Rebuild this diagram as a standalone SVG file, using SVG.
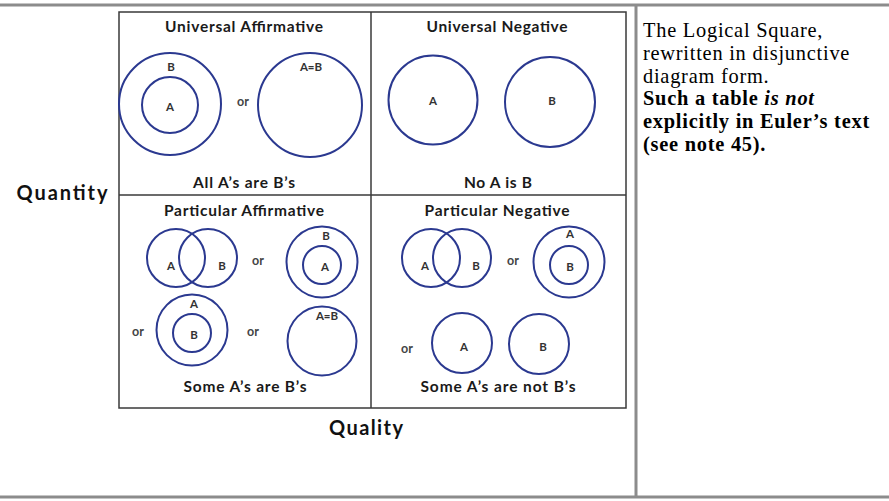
<svg xmlns="http://www.w3.org/2000/svg" width="889" height="501" viewBox="0 0 889 501">
<style>
.frame{stroke:#8c8c8c;stroke-width:3;fill:none}
.grid{stroke:#3a3a3a;stroke-width:1.5;fill:none}
.c{fill:none;stroke:#2b3990;stroke-width:2}
.t{font-family:Lato,"Open Sans",sans-serif;font-weight:bold;fill:#1a1a1a;text-anchor:middle}
.title{font-size:15.5px}
.lab{font-size:11.5px;fill:#333}
.or{font-size:12.5px;fill:#444}
.ax{font-size:20px;fill:#111}
.side{font-family:"Liberation Serif","Times New Roman",serif;font-size:20.4px;letter-spacing:0.75px;fill:#000}
</style>
<rect width="889" height="501" fill="#fff"/>
<g id="frame">
<line class="frame" x1="0" y1="5" x2="889" y2="5"/>
<line class="frame" x1="0" y1="497" x2="889" y2="497"/>
<line class="frame" x1="636" y1="5" x2="636" y2="497"/>
</g>
<g id="table">
<rect class="grid" x="119" y="12" width="507" height="396"/>
<line class="grid" x1="371" y1="12" x2="371" y2="408"/>
<line class="grid" x1="119" y1="195" x2="626" y2="195"/>
</g>
<g id="universal-affirmative">
<text class="t title" x="244" y="32" textLength="158" lengthAdjust="spacing">Universal Affirmative</text>
<circle class="c" cx="170" cy="104" r="51"/>
<circle class="c" cx="170" cy="105" r="28"/>
<text class="t lab" x="171" y="71">B</text>
<text class="t lab" x="170" y="111">A</text>
<text class="t or" x="243" y="106">or</text>
<circle class="c" cx="310" cy="105" r="52"/>
<text class="t lab" x="311" y="71">A=B</text>
<text class="t title" x="244" y="188" textLength="102" lengthAdjust="spacing">All A’s are B’s</text>
</g>
<g id="universal-negative">
<text class="t title" x="497" y="32" textLength="141" lengthAdjust="spacing">Universal Negative</text>
<circle class="c" cx="433" cy="100" r="44.5"/>
<text class="t lab" x="433" y="105">A</text>
<circle class="c" cx="550" cy="102" r="45"/>
<text class="t lab" x="552" y="105">B</text>
<text class="t title" x="498" y="188" textLength="68" lengthAdjust="spacing">No A is B</text>
</g>
<g id="particular-affirmative">
<text class="t title" x="244" y="216" textLength="160" lengthAdjust="spacing">Particular Affirmative</text>
<circle class="c" cx="176" cy="258" r="29"/>
<circle class="c" cx="208" cy="258" r="29"/>
<text class="t lab" x="171" y="270">A</text>
<text class="t lab" x="222" y="270">B</text>
<text class="t or" x="258" y="265">or</text>
<circle class="c" cx="322" cy="262" r="35.5"/>
<circle class="c" cx="322" cy="265" r="19"/>
<text class="t lab" x="326" y="240">B</text>
<text class="t lab" x="325" y="271">A</text>
<circle class="c" cx="192" cy="330" r="35.5"/>
<circle class="c" cx="192" cy="333" r="19"/>
<text class="t lab" x="194" y="308">A</text>
<text class="t lab" x="194" y="339">B</text>
<text class="t or" x="138" y="336">or</text>
<text class="t or" x="253" y="336">or</text>
<circle class="c" cx="322" cy="341" r="34.5"/>
<text class="t lab" x="327" y="320">A=B</text>
<text class="t title" x="245" y="392" textLength="123" lengthAdjust="spacing">Some A’s are B’s</text>
</g>
<g id="particular-negative">
<text class="t title" x="497" y="216" textLength="145" lengthAdjust="spacing">Particular Negative</text>
<circle class="c" cx="431" cy="258" r="29"/>
<circle class="c" cx="462" cy="258" r="29"/>
<text class="t lab" x="425" y="270">A</text>
<text class="t lab" x="476" y="270">B</text>
<text class="t or" x="513" y="265">or</text>
<circle class="c" cx="569" cy="262" r="35.5"/>
<circle class="c" cx="569" cy="265" r="19"/>
<text class="t lab" x="570" y="238">A</text>
<text class="t lab" x="570" y="271">B</text>
<text class="t or" x="407" y="353">or</text>
<circle class="c" cx="462" cy="343" r="30"/>
<text class="t lab" x="464" y="351">A</text>
<circle class="c" cx="539" cy="344" r="30"/>
<text class="t lab" x="543" y="351">B</text>
<text class="t title" x="498" y="392" textLength="155" lengthAdjust="spacing">Some A’s are not B’s</text>
</g>
<g id="axes">
<text class="t ax" x="62" y="200" textLength="91" lengthAdjust="spacing">Quantity</text>
<text class="t ax" x="366" y="435" textLength="74" lengthAdjust="spacing">Quality</text>
</g>
<g id="caption">
<text class="side" x="643" y="37">The Logical Square,</text>
<text class="side" x="643" y="59.8">rewritten in disjunctive</text>
<text class="side" x="643" y="82.6">diagram form.</text>
<text class="side" x="643" y="105.4" font-weight="bold">Such a table <tspan font-style="italic">is not</tspan></text>
<text class="side" x="643" y="128.2" font-weight="bold">explicitly in Euler’s text</text>
<text class="side" x="643" y="151" font-weight="bold">(see note 45).</text>
</g>
</svg>
